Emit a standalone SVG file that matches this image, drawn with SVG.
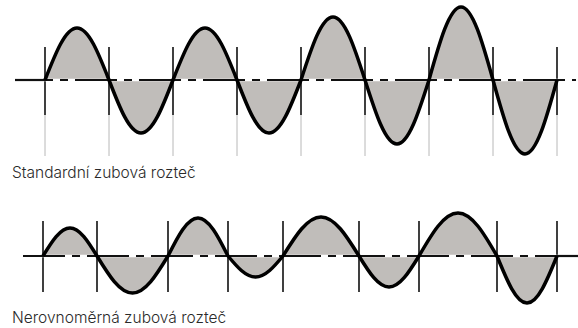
<svg xmlns="http://www.w3.org/2000/svg" width="578" height="328" viewBox="0 0 578 328">
<style>
.fill{fill:#c0bdba;stroke:none}
.wave{fill:none;stroke:#000;stroke-width:3.5;stroke-linejoin:round}
.axisbg{stroke:#fff;stroke-width:2.4}
.axis{stroke:#111;stroke-width:2.2}
.dash{stroke-dasharray:42 7 8 7}
.tick{stroke:#111;stroke-width:1.6}
.tickgrey{stroke:#b8b8b8;stroke-width:1}
.label{font-family:Inter,"Noto Sans",sans-serif;font-size:15.5px;font-weight:300;fill:#2a2a2a}
</style>
<rect width="578" height="328" fill="#fff"/>
<g id="standard">
<path class="fill" d="M45,80 C55.44,53.36 65.42,28 77,28 C88.58,28 98.56,53.36 109,80 C119.44,107.15 129.42,133 141,133 C152.58,133 162.56,107.15 173,80 C183.44,53.36 193.42,28 205,28 C216.58,28 226.56,53.36 237,80 C247.44,107.15 257.42,133 269,133 C280.58,133 290.56,107.15 301,80 C311.44,47.73 321.42,17 333,17 C344.58,17 354.56,47.73 365,80 C375.44,112.79 385.42,144 397,144 C408.58,144 418.56,112.79 429,80 C439.44,42.6 449.42,7 461,7 C472.58,7 482.56,42.6 493,80 C503.44,117.91 513.42,154 525,154 C536.58,154 546.56,117.91 557,80 Z"/>
<g id="standard-ticks">
<path class="tickgrey" d="M45,115V156M109,115V156M173,115V156M237,115V156M301,115V156M365,115V156M429,115V156M493,115V156M557,115V156"/>
<path class="tick" d="M45,47V115M109,47V115M173,47V115M237,47V115M301,47V115M365,47V115M429,47V115M493,47V115M557,47V115"/>
</g>
<line class="axisbg" x1="15" y1="80" x2="576" y2="80"/>
<line class="axis" x1="15" y1="80" x2="45" y2="80"/>
<line class="axis dash" x1="45" y1="80" x2="576" y2="80" stroke-dashoffset="34"/>
<path class="wave" d="M45,80 C55.44,53.36 65.42,28 77,28 C88.58,28 98.56,53.36 109,80 C119.44,107.15 129.42,133 141,133 C152.58,133 162.56,107.15 173,80 C183.44,53.36 193.42,28 205,28 C216.58,28 226.56,53.36 237,80 C247.44,107.15 257.42,133 269,133 C280.58,133 290.56,107.15 301,80 C311.44,47.73 321.42,17 333,17 C344.58,17 354.56,47.73 365,80 C375.44,112.79 385.42,144 397,144 C408.58,144 418.56,112.79 429,80 C439.44,42.6 449.42,7 461,7 C472.58,7 482.56,42.6 493,80 C503.44,117.91 513.42,154 525,154 C536.58,154 546.56,117.91 557,80"/>
<text class="label" x="12" y="178">Standardní zubová rozteč</text>
</g>
<g id="uneven">
<path class="fill" d="M43,256 C51.81,241.66 60.23,228 70,228 C79.77,228 88.19,241.66 97,256 C108.58,274.95 119.65,293 132.5,293 C145.35,293 156.42,274.95 168,256 C177.78,236.53 187.14,218 198,218 C208.86,218 218.22,236.53 228,256 C236.97,266.76 245.55,277 255.5,277 C265.45,277 274.03,266.76 283,256 C295.39,236.02 307.25,217 321,217 C334.75,217 346.61,236.02 359,256 C368.78,271.88 378.14,287 389,287 C399.86,287 409.22,271.88 419,256 C431.72,233.97 443.89,213 458,213 C472.11,213 484.28,233.97 497,256 C506.78,280.08 516.14,303 527,303 C537.86,303 547.22,280.08 557,256 Z"/>
<path id="uneven-ticks" class="tick" d="M43,221V292M97,221V292M168,221V292M228,221V292M283,221V292M359,221V292M419,221V292M497,221V292M557,221V292"/>
<line class="axisbg" x1="17" y1="256" x2="578" y2="256"/>
<line class="axis dash" x1="17" y1="256" x2="557" y2="256" stroke-dashoffset="-6"/>
<line class="axis" x1="557" y1="256" x2="578" y2="256"/>
<path class="wave" d="M43,256 C51.81,241.66 60.23,228 70,228 C79.77,228 88.19,241.66 97,256 C108.58,274.95 119.65,293 132.5,293 C145.35,293 156.42,274.95 168,256 C177.78,236.53 187.14,218 198,218 C208.86,218 218.22,236.53 228,256 C236.97,266.76 245.55,277 255.5,277 C265.45,277 274.03,266.76 283,256 C295.39,236.02 307.25,217 321,217 C334.75,217 346.61,236.02 359,256 C368.78,271.88 378.14,287 389,287 C399.86,287 409.22,271.88 419,256 C431.72,233.97 443.89,213 458,213 C472.11,213 484.28,233.97 497,256 C506.78,280.08 516.14,303 527,303 C537.86,303 547.22,280.08 557,256"/>
<text class="label" x="12" y="323">Nerovnoměrná zubová rozteč</text>
</g>
</svg>
